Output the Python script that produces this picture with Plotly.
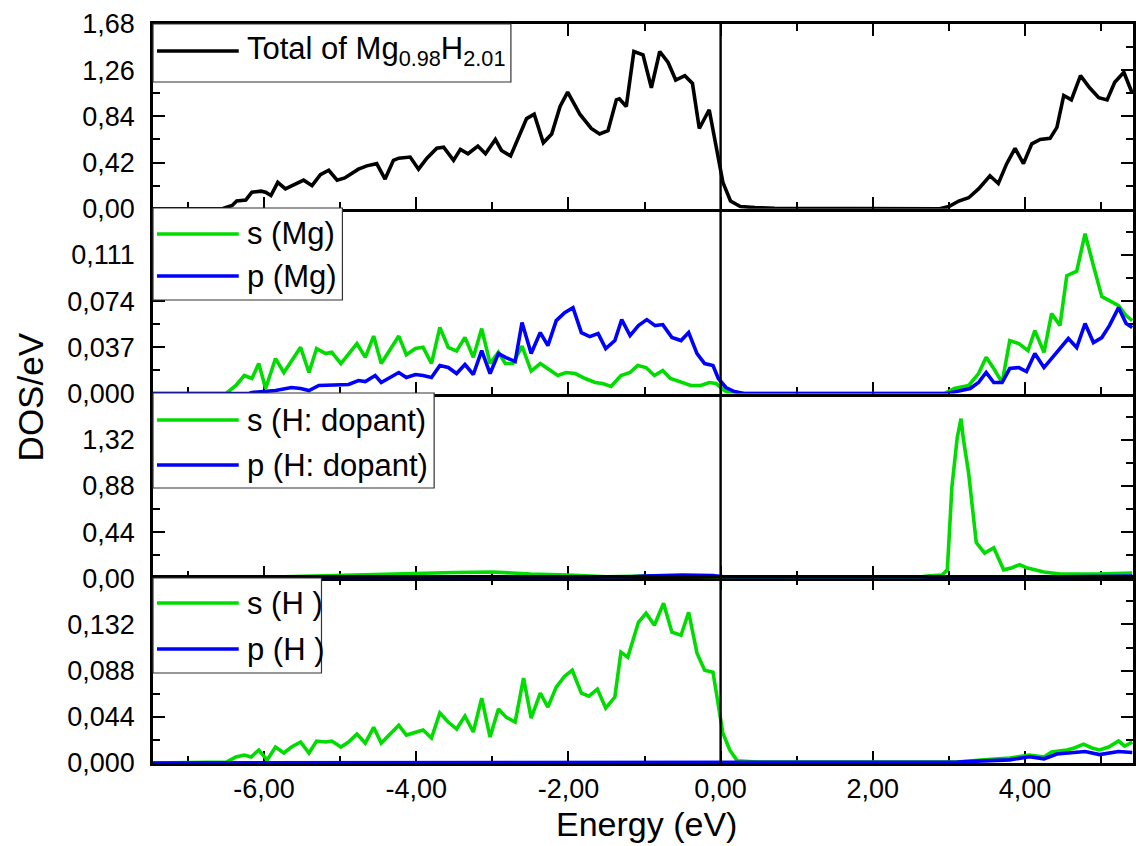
import plotly.graph_objects as go
from plotly.subplots import make_subplots

# ---------------- data (energy in eV, DOS in states/eV) ----------------
# Panel 1: total DOS of Mg0.98H2.01
total_E = [-7.50, -6.55, -6.42, -6.36, -6.24, -6.16, -6.04, -5.98, -5.91, -5.82,
           -5.72, -5.58, -5.48, -5.37, -5.26, -5.15, -5.04, -4.94, -4.76, -4.65,
           -4.52, -4.41, -4.30, -4.23, -4.08, -3.97, -3.86, -3.73, -3.64, -3.51,
           -3.42, -3.32, -3.19, -3.09, -2.96, -2.88, -2.76, -2.55, -2.45, -2.33,
           -2.22, -2.11, -2.01, -1.85, -1.70, -1.59, -1.48, -1.37, -1.33, -1.24,
           -1.14, -1.02, -0.91, -0.80, -0.69, -0.59, -0.47, -0.37, -0.28, -0.15,
           -0.04, 0.03, 0.13, 0.26, 0.45, 0.71, 2.88, 3.00, 3.13, 3.26,
           3.39, 3.54, 3.65, 3.76, 3.87, 3.98, 4.09, 4.20, 4.33, 4.42,
           4.51, 4.61, 4.73, 4.85, 4.97, 5.08, 5.18, 5.30, 5.41]
total_dos = [0.00, 0.00, 0.03, 0.07, 0.08, 0.15, 0.16, 0.15, 0.12, 0.24,
             0.18, 0.23, 0.26, 0.21, 0.31, 0.35, 0.26, 0.28, 0.36, 0.39,
             0.41, 0.27, 0.44, 0.46, 0.47, 0.36, 0.46, 0.55, 0.56, 0.44,
             0.54, 0.50, 0.57, 0.50, 0.63, 0.53, 0.48, 0.82, 0.86, 0.60,
             0.68, 0.93, 1.06, 0.86, 0.73, 0.68, 0.71, 0.99, 1.00, 0.93,
             1.43, 1.40, 1.10, 1.43, 1.33, 1.17, 1.21, 1.14, 0.73, 0.90,
             0.48, 0.24, 0.07, 0.02, 0.01, 0.005, 0.00, 0.02, 0.07, 0.10,
             0.18, 0.30, 0.23, 0.41, 0.55, 0.41, 0.59, 0.63, 0.64, 0.74,
             1.03, 0.99, 1.21, 1.10, 1.01, 0.99, 1.15, 1.24, 1.05]

# Panel 2: Mg s and p partial DOS
mg_s_E = [-7.50, -6.50, -6.37, -6.26, -6.16, -6.07, -5.98, -5.85, -5.74, -5.64,
          -5.52, -5.41, -5.31, -5.19, -5.11, -4.99, -4.78, -4.67, -4.56, -4.46,
          -4.23, -4.13, -4.01, -3.91, -3.80, -3.69, -3.58, -3.47, -3.36, -3.25,
          -3.14, -3.03, -2.92, -2.83, -2.73, -2.61, -2.49, -2.37, -2.27, -2.14,
          -2.03, -1.91, -1.78, -1.65, -1.55, -1.44, -1.31, -1.19, -1.09, -0.98,
          -0.87, -0.76, -0.66, -0.52, -0.39, -0.26, -0.15, -0.06, 0.05, 0.13,
          2.94, 3.07, 3.26, 3.39, 3.49, 3.59, 3.70, 3.80, 3.92, 4.04,
          4.13, 4.25, 4.35, 4.46, 4.55, 4.68, 4.79, 4.90, 5.01, 5.11,
          5.23, 5.33, 5.41]
mg_s_dos = [0.0, 0.0, 0.0064, 0.0144, 0.012, 0.024, 0.004, 0.028, 0.0168, 0.0264,
            0.037, 0.0168, 0.036, 0.032, 0.033, 0.024, 0.040, 0.029, 0.046, 0.024,
            0.046, 0.031, 0.036, 0.037, 0.024, 0.053, 0.037, 0.034, 0.045, 0.029,
            0.052, 0.024, 0.033, 0.024, 0.024, 0.038, 0.018, 0.024, 0.020, 0.0144,
            0.0168, 0.016, 0.012, 0.0088, 0.008, 0.0056, 0.0144, 0.0168, 0.0224, 0.0208,
            0.0144, 0.0184, 0.012, 0.0088, 0.0064, 0.0064, 0.0088, 0.008, 0.0024, 0.0,
            0.0, 0.004, 0.0064, 0.016, 0.029, 0.020, 0.0088, 0.0424, 0.040, 0.0344,
            0.0504, 0.033, 0.064, 0.0544, 0.0944, 0.098, 0.128, 0.1024, 0.0776, 0.0744,
            0.0704, 0.0624, 0.0584]

mg_p_E = [-7.50, -6.20, -6.16, -5.85, -5.64, -5.52, -5.41, -5.28, -4.89, -4.76,
          -4.67, -4.54, -4.46, -4.23, -4.13, -4.01, -3.91, -3.80, -3.69, -3.58,
          -3.47, -3.36, -3.25, -3.14, -3.03, -2.92, -2.82, -2.70, -2.61, -2.49,
          -2.37, -2.27, -2.16, -2.05, -1.94, -1.83, -1.72, -1.61, -1.51, -1.39,
          -1.30, -1.19, -1.08, -0.97, -0.86, -0.76, -0.64, -0.52, -0.42, -0.31,
          -0.21, -0.10, -0.03, 0.07, 0.18, 0.31, 2.98, 3.11, 3.28, 3.39,
          3.49, 3.59, 3.70, 3.80, 3.92, 4.02, 4.13, 4.25, 4.35, 4.46,
          4.57, 4.68, 4.79, 4.90, 5.01, 5.11, 5.23, 5.33, 5.41]
mg_p_dos = [0.0, 0.0, 0.0008, 0.0024, 0.0048, 0.004, 0.0024, 0.0064, 0.0072, 0.0104,
            0.0096, 0.0144, 0.0088, 0.0168, 0.0128, 0.0152, 0.0144, 0.0128, 0.0224, 0.0208,
            0.016, 0.0232, 0.0152, 0.0344, 0.016, 0.032, 0.0288, 0.0256, 0.0568, 0.032,
            0.0488, 0.0384, 0.0584, 0.0648, 0.0688, 0.0488, 0.0456, 0.048, 0.036, 0.0424,
            0.0592, 0.0464, 0.0544, 0.0592, 0.0544, 0.0552, 0.0448, 0.0424, 0.0488, 0.032,
            0.024, 0.0224, 0.012, 0.0048, 0.0016, 0.0, 0.0, 0.0016, 0.004, 0.0088,
            0.0168, 0.0088, 0.0088, 0.020, 0.0208, 0.0176, 0.032, 0.0208, 0.028, 0.036,
            0.044, 0.0368, 0.056, 0.0408, 0.0448, 0.0544, 0.0688, 0.056, 0.0528]

# Panel 3: dopant H s and p partial DOS
hd_s_E = [-7.50, -6.50, -6.00, -5.50, -5.00, -4.50, -4.00, -3.50, -3.00, -2.50,
          -2.00, -1.50, -1.00, -0.50, 0.00, 0.20, 2.50, 2.71, 2.91, 2.98,
          3.04, 3.11, 3.16, 3.19, 3.26, 3.36, 3.47, 3.59, 3.72, 3.83,
          3.93, 4.02, 4.25, 4.46, 4.94, 5.41]
hd_s_dos = [0.0, 0.0, 0.01, 0.02, 0.025, 0.035, 0.045, 0.055, 0.06, 0.04,
            0.03, 0.015, 0.02, 0.02, 0.01, 0.0, 0.0, 0.02, 0.03, 0.08,
            0.87, 1.34, 1.52, 1.33, 1.00, 0.34, 0.24, 0.29, 0.08, 0.10,
            0.13, 0.10, 0.06, 0.04, 0.04, 0.05]

hd_p_E = [-7.50, -1.50, -1.00, -0.50, -0.10, 0.20, 3.70, 4.00, 4.50, 5.00, 5.41]
hd_p_dos = [0.0, 0.0, 0.02, 0.03, 0.025, 0.0, 0.0, 0.01, 0.015, 0.015, 0.02]

# Panel 4: host H s and p partial DOS
h_s_E = [-7.50, -6.49, -6.37, -6.26, -6.17, -6.07, -5.96, -5.85, -5.74, -5.64,
         -5.52, -5.41, -5.31, -5.19, -5.11, -4.99, -4.89, -4.78, -4.67, -4.56,
         -4.46, -4.23, -4.13, -4.01, -3.91, -3.80, -3.69, -3.58, -3.47, -3.36,
         -3.25, -3.14, -3.03, -2.92, -2.82, -2.70, -2.59, -2.49, -2.37, -2.27,
         -2.16, -2.05, -1.95, -1.83, -1.73, -1.62, -1.51, -1.39, -1.31, -1.22,
         -1.08, -0.98, -0.87, -0.75, -0.64, -0.52, -0.42, -0.31, -0.21, -0.10,
         -0.04, 0.03, 0.12, 0.22, 0.48, 3.11, 3.46, 3.80, 4.06, 4.25,
         4.35, 4.55, 4.65, 4.77, 4.88, 4.98, 5.10, 5.23, 5.31, 5.41]
h_s_dos = [0.0, 0.001, 0.0057, 0.0076, 0.0057, 0.0124, 0.0029, 0.0152, 0.0095, 0.0152,
           0.020, 0.0095, 0.0209, 0.020, 0.0209, 0.0152, 0.020, 0.0276, 0.019, 0.034,
           0.019, 0.036, 0.0266, 0.0295, 0.0314, 0.0238, 0.0476, 0.039, 0.0323, 0.0447,
           0.0295, 0.0618, 0.0247, 0.0514, 0.0437, 0.039, 0.0808, 0.0428, 0.0666, 0.0533,
           0.0723, 0.0827, 0.0884, 0.0666, 0.0637, 0.0704, 0.0523, 0.0628, 0.1056, 0.1008,
           0.134, 0.1427, 0.1312, 0.1522, 0.1246, 0.1217, 0.1436, 0.1046, 0.0884, 0.0865,
           0.058, 0.0285, 0.0124, 0.002, 0.001, 0.001, 0.003, 0.0048, 0.0076, 0.0057,
           0.0105, 0.0124, 0.0143, 0.018, 0.0143, 0.0124, 0.0152, 0.0209, 0.0162, 0.020]

h_p_E = [-7.50, 3.11, 3.46, 3.80, 4.06, 4.25, 4.42, 4.64, 4.79, 4.98, 5.23, 5.41]
h_p_dos = [0.0, 0.001, 0.002, 0.003, 0.006, 0.004, 0.0086, 0.010, 0.011, 0.008, 0.011, 0.010]

# ---------------- axes ----------------
x_range = [-7.46, 5.42]
x_tick_vals = [-6, -4, -2, 0, 2, 4]
x_tick_text = ["-6,00", "-4,00", "-2,00", "0,00", "2,00", "4,00"]

y_ranges = [[0, 1.68], [0, 0.148], [0, 1.76], [0, 0.176]]
y_tick_vals = [[0, 0.42, 0.84, 1.26, 1.68],
               [0, 0.037, 0.074, 0.111],
               [0, 0.44, 0.88, 1.32],
               [0, 0.044, 0.088, 0.132]]
y_tick_text = [["0,00", "0,42", "0,84", "1,26", "1,68"],
               ["0,000", "0,037", "0,074", "0,111"],
               ["0,00", "0,44", "0,88", "1,32"],
               ["0,000", "0,044", "0,088", "0,132"]]
y_minor_step = [0.21, 0.0185, 0.22, 0.022]

GREEN = "#00DC00"
BLUE = "#0000FF"
FONT = "Liberation Sans, Arial, sans-serif"

legend_entries = [
    [("Total of Mg<sub>0.98</sub>H<sub>2.01</sub>", "#000000")],
    [("s (Mg)", GREEN), ("p (Mg)", BLUE)],
    [("s (H: dopant)", GREEN), ("p (H: dopant)", BLUE)],
    [("s (H )", GREEN), ("p (H )", BLUE)],
]

fig = make_subplots(rows=4, cols=1, shared_xaxes=True, vertical_spacing=0)

LW = 3.6
series = [
    (1, total_E, total_dos, "#000000"),
    (2, mg_s_E, mg_s_dos, GREEN),
    (2, mg_p_E, mg_p_dos, BLUE),
    (3, hd_s_E, hd_s_dos, GREEN),
    (3, hd_p_E, hd_p_dos, BLUE),
    (4, h_s_E, h_s_dos, GREEN),
    (4, h_p_E, h_p_dos, BLUE),
]
for row, xs, ys, col in series:
    fig.add_trace(go.Scatter(x=xs, y=ys, mode="lines",
                             line=dict(color=col, width=LW),
                             showlegend=False, hoverinfo="skip"),
                  row=row, col=1)

axis_common = dict(showline=True, linecolor="black", linewidth=2.6,
                   ticks="inside", ticklen=12, tickwidth=2, tickcolor="black",
                   showgrid=False, zeroline=False, layer="below traces",
                   tickfont=dict(family=FONT, size=27, color="black"))

for row in range(1, 5):
    x_mirror = "allticks" if row in (1, 4) else False
    fig.update_xaxes(range=x_range, tickmode="array", tickvals=x_tick_vals,
                     ticktext=x_tick_text, showticklabels=(row == 4),
                     mirror=x_mirror, ticklabelstandoff=0,
                     minor=dict(ticks="inside", ticklen=7, tickwidth=2,
                                tickcolor="black", tick0=0, dtick=1),
                     row=row, col=1, **axis_common)
    fig.update_yaxes(range=y_ranges[row - 1], tickmode="array",
                     tickvals=y_tick_vals[row - 1], ticktext=y_tick_text[row - 1],
                     mirror="allticks", ticklabelstandoff=10,
                     minor=dict(ticks="inside", ticklen=7, tickwidth=2,
                                tickcolor="black", tick0=0,
                                dtick=y_minor_step[row - 1]),
                     row=row, col=1, **axis_common)

# ---------------- layout geometry ----------------
W, H = 1136, 846
ML, MR, MT, MB = 153, 0, 24, 83
PW, PH = W - ML - MR, H - MT - MB


def fx(px):
    return (px - ML) / PW


def fy(py):
    return (H - MB - py) / PH


shapes = []
annotations = []

# Fermi level
shapes.append(dict(type="line", xref="x", yref="paper", x0=0, x1=0, y0=0, y1=1,
                   line=dict(color="black", width=2.4), layer="above"))

# legend boxes: (left, top, right, bottom) and entry rows, in pixels
legend_boxes = [(153, 24, 512, 82), (153, 208, 343, 300),
                (153, 393, 435, 488), (153, 578, 322, 673)]
legend_rows = [[51], [234, 276], [420, 465], [603, 649]]

for box, rows, entries in zip(legend_boxes, legend_rows, legend_entries):
    x0, y0, x1, y1 = box
    shapes.append(dict(type="rect", xref="paper", yref="paper",
                       x0=fx(x0), x1=fx(x1), y0=fy(y1), y1=fy(y0),
                       fillcolor="white", line=dict(color="#333333", width=1.2),
                       layer="above"))
    for ry, (label, col) in zip(rows, entries):
        shapes.append(dict(type="line", xref="paper", yref="paper",
                           x0=fx(157), x1=fx(239), y0=fy(ry), y1=fy(ry),
                           line=dict(color=col, width=LW), layer="above"))
        annotations.append(dict(text=label, xref="paper", yref="paper",
                                x=fx(245), y=fy(ry), xanchor="left", yanchor="middle",
                                showarrow=False,
                                font=dict(family=FONT, size=31, color="black")))

# axis titles
annotations.append(dict(text="Energy (eV)", xref="paper", yref="paper",
                        x=fx(648), y=fy(824), xanchor="center", yanchor="middle",
                        showarrow=False, font=dict(family=FONT, size=34, color="black")))
annotations.append(dict(text="DOS/eV", xref="paper", yref="paper",
                        x=fx(30), y=fy(397), xanchor="center", yanchor="middle",
                        textangle=-90, showarrow=False,
                        font=dict(family=FONT, size=35, color="black")))

fig.update_layout(width=W, height=H,
                  margin=dict(l=ML, r=MR, t=MT, b=MB, pad=0),
                  paper_bgcolor="white", plot_bgcolor="white",
                  showlegend=False, shapes=shapes, annotations=annotations,
                  font=dict(family=FONT, color="black"))

fig.write_html("out.html")
